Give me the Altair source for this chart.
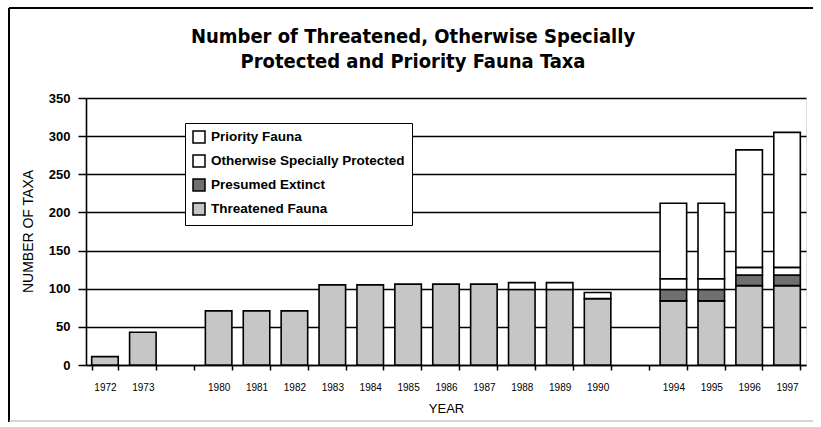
import altair as alt
import pandas as pd

# Survey years (with two blank slots marking the gaps in the record)
year_slots = ["1972", "1973", " ", "1980", "1981", "1982", "1983", "1984", "1985",
              "1986", "1987", "1988", "1989", "1990", "  ", "1994", "1995", "1996", "1997"]
years = ["1972", "1973", "1980", "1981", "1982", "1983", "1984", "1985",
         "1986", "1987", "1988", "1989", "1990", "1994", "1995", "1996", "1997"]

threatened = [11, 43, 71, 71, 71, 105, 105, 106, 106, 106, 99, 99, 87, 84, 84, 104, 104]
presumed_extinct = [0, 0, 0, 0, 0, 0, 0, 0, 0, 0, 0, 0, 0, 15, 15, 14, 14]
otherwise_protected = [0, 0, 0, 0, 0, 0, 0, 0, 0, 0, 9, 9, 8, 14, 14, 10, 10]
priority = [0, 0, 0, 0, 0, 0, 0, 0, 0, 0, 0, 0, 0, 99, 99, 154, 177]

categories = ["Priority Fauna", "Otherwise Specially Protected",
              "Presumed Extinct", "Threatened Fauna"]
fills = ["#ffffff", "#ffffff", "#6f6f6f", "#c6c6c6"]

series = {
    "Threatened Fauna": threatened,
    "Presumed Extinct": presumed_extinct,
    "Otherwise Specially Protected": otherwise_protected,
    "Priority Fauna": priority,
}
stack_rank = {"Threatened Fauna": 0, "Presumed Extinct": 1,
              "Otherwise Specially Protected": 2, "Priority Fauna": 3}

rows = []
for name, values in series.items():
    for yr, v in zip(years, values):
        if v > 0:
            rows.append({"year": yr, "category": name, "taxa": v, "rank": stack_rank[name]})
df = pd.DataFrame(rows)

FONT = "Liberation Sans"
TITLE_FONT = "Liberation Sans Narrow, Arial Narrow, DejaVu Sans Condensed, Roboto Condensed, Liberation Sans, sans-serif"

bars = alt.Chart(df).mark_bar(stroke="black", strokeWidth=1.6).encode(
    x=alt.X("year:N", scale=alt.Scale(domain=year_slots, paddingInner=0.3, paddingOuter=0.15),
            axis=alt.Axis(title="YEAR", labelAngle=0, tickBand="extent", tickSize=5,
                          tickColor="black", tickWidth=1.5, domainColor="black", domainWidth=1.6,
                          labelFont=FONT, labelFontSize=10, labelColor="black", labelPadding=12,
                          titleFont=FONT, titleFontSize=13, titleFontWeight="normal",
                          titleColor="black", titlePadding=10)),
    y=alt.Y("taxa:Q", stack="zero", scale=alt.Scale(domain=[0, 350], nice=False),
            axis=alt.Axis(title="NUMBER OF TAXA", values=[0, 50, 100, 150, 200, 250, 300, 350],
                          grid=True, gridColor="black", gridWidth=1.5, gridOpacity=1,
                          tickSize=8, tickColor="black", tickWidth=1.5,
                          domainColor="black", domainWidth=1.6,
                          labelFont=FONT, labelFontSize=13, labelFontWeight="bold",
                          labelColor="black", labelPadding=8,
                          titleFont=FONT, titleFontSize=14, titleFontWeight="normal",
                          titleColor="black", titleX=-51, titleY=133)),
    color=alt.Color("category:N", scale=alt.Scale(domain=categories, range=fills),
                    legend=alt.Legend(title=None, orient="none", legendX=99, legendY=25,
                                      symbolType="square", symbolSize=144,
                                      symbolStrokeColor="black", symbolStrokeWidth=1.5,
                                      symbolOpacity=1, labelLimit=400,
                                      labelFont=FONT, labelFontSize=13.5, labelFontWeight="bold",
                                      labelColor="black", labelOffset=5, rowPadding=6,
                                      padding=7, strokeColor="black", fillColor="white")),
    order=alt.Order("rank:Q"),
)

# Outer frame around the whole figure
frame_data = pd.DataFrame({"edge": ["frame"]})
frame_left = alt.Chart(frame_data).mark_rule(color="black", strokeWidth=2).encode(
    x=alt.value(-77), y=alt.value(-90), y2=alt.value(324))
frame_top = alt.Chart(frame_data).mark_rule(color="black", strokeWidth=2).encode(
    x=alt.value(-77), x2=alt.value(727), y=alt.value(-90))
frame_bottom = alt.Chart(frame_data).mark_rule(color="#b0b0b0", strokeWidth=1).encode(
    x=alt.value(-77), x2=alt.value(727), y=alt.value(323))

chart = alt.layer(bars, frame_left, frame_top, frame_bottom).properties(
    width=720, height=267,
    autosize=alt.AutoSizeParams(type="none"),
    padding={"left": 86, "top": 98, "right": 15, "bottom": 62},
    title=alt.Title(["Number of Threatened, Otherwise Specially",
                     "Protected and Priority Fauna Taxa"],
                    font=TITLE_FONT, fontSize=20, fontWeight="bold",
                    color="black", anchor="middle", frame="group", dx=-33,
                    offset=0, dy=65, lineHeight=25),
).configure_view(stroke=None).configure(background="white")

chart.save("out.html", embed_options={"renderer": "svg", "actions": False})
